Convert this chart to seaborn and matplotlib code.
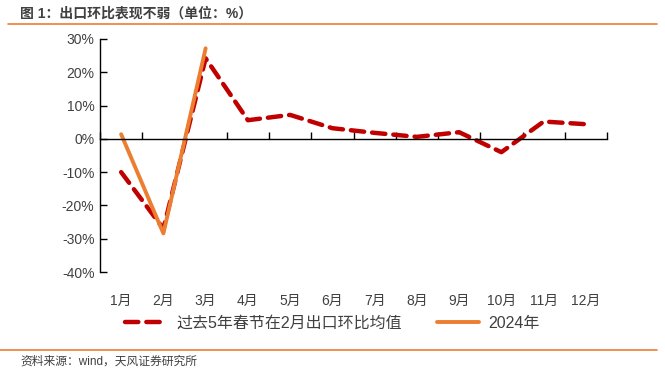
import matplotlib
matplotlib.use('Agg')
import matplotlib.pyplot as plt
import matplotlib.lines as mlines
import seaborn as sns
import pandas as pd

months = ['1月', '2月', '3月', '4月', '5月', '6月', '7月', '8月', '9月', '10月', '11月', '12月']
avg_5y = [-10.0, -27.0, 24.2, 5.6, 7.2, 3.2, 1.8, 0.6, 2.0, -4.0, 5.2, 4.4]
y2024 = [1.4, -28.4, 27.2]
yticks = [30, 20, 10, 0, -10, -20, -30, -40]

red = '#C00000'
orange = '#ED7D31'
grey = '#404040'

sns.set_style('white')
plt.rcParams['font.family'] = ['Liberation Sans', 'Noto Sans CJK SC', 'DejaVu Sans']

fig = plt.figure(figsize=(6.65, 3.86), dpi=100)
ax = fig.add_axes([0.1504, 0.2953, 0.7624, 0.6037])

df_avg = pd.DataFrame({'month': months, 'value': avg_5y})
df_24 = pd.DataFrame({'month': months[:len(y2024)], 'value': y2024})

sns.lineplot(data=df_avg, x='month', y='value', ax=ax, color=red, lw=3.2,
             sort=False)
ax.lines[-1].set_dashes((3, 1.8))
ax.lines[-1].set_dash_capstyle('round')
sns.lineplot(data=df_24, x='month', y='value', ax=ax, color=orange, lw=2.8,
             sort=False)

ax.set_xlim(-0.5, len(months) - 0.5)
ax.set_ylim(-40, 30)
ax.set_yticks(yticks)
ax.set_yticklabels([f'{v}%' for v in yticks], fontsize=10, color=grey)
ax.tick_params(axis='y', direction='in', length=5, width=1, color='black', pad=4, left=True)

# category axis sits at 0, ticks between categories
ax.spines['bottom'].set_position(('data', 0))
ax.set_xticks([i - 0.5 for i in range(len(months) + 1)])
ax.set_xticklabels([])
ax.tick_params(axis='x', direction='in', length=5, width=1, color='black', bottom=True)
for s in ['top', 'right']:
    ax.spines[s].set_visible(False)
for s in ['left', 'bottom']:
    ax.spines[s].set_color('black')
    ax.spines[s].set_linewidth(1)
ax.set_xlabel('')
ax.set_ylabel('')

sec = ax.secondary_xaxis(0)
sec.set_xticks(range(len(months)))
sec.set_xticklabels(months, fontsize=10, color=grey)
sec.tick_params(length=0, pad=16)
sec.spines['bottom'].set_visible(False)

h_red = mlines.Line2D([], [], color=red, lw=3.2, dashes=(3, 1.8), dash_capstyle='round')
h_or = mlines.Line2D([], [], color=orange, lw=2.8)
fig.legend([h_red, h_or], ['过去5年春节在2月出口环比均值', '2024年'],
           loc='center', bbox_to_anchor=(0.5, 0.163), ncol=2, frameon=False,
           fontsize=11.5, labelcolor=grey, handlelength=2.6, columnspacing=2.2,
           handletextpad=0.6)

fig.text(0.03, 0.965, '图 1：出口环比表现不弱（单位：%）', fontsize=10, fontweight='bold',
         color=grey, va='center', ha='left')
fig.add_artist(mlines.Line2D([0.012, 0.988], [0.938, 0.938], color=orange, lw=1.2))
fig.add_artist(mlines.Line2D([0.0, 0.988], [0.093, 0.093], color=orange, lw=1.2))
fig.text(0.03, 0.062, '资料来源：wind，天风证券研究所', fontsize=8.5, color=grey,
         va='center', ha='left')

fig.savefig('out.png', dpi=100)
